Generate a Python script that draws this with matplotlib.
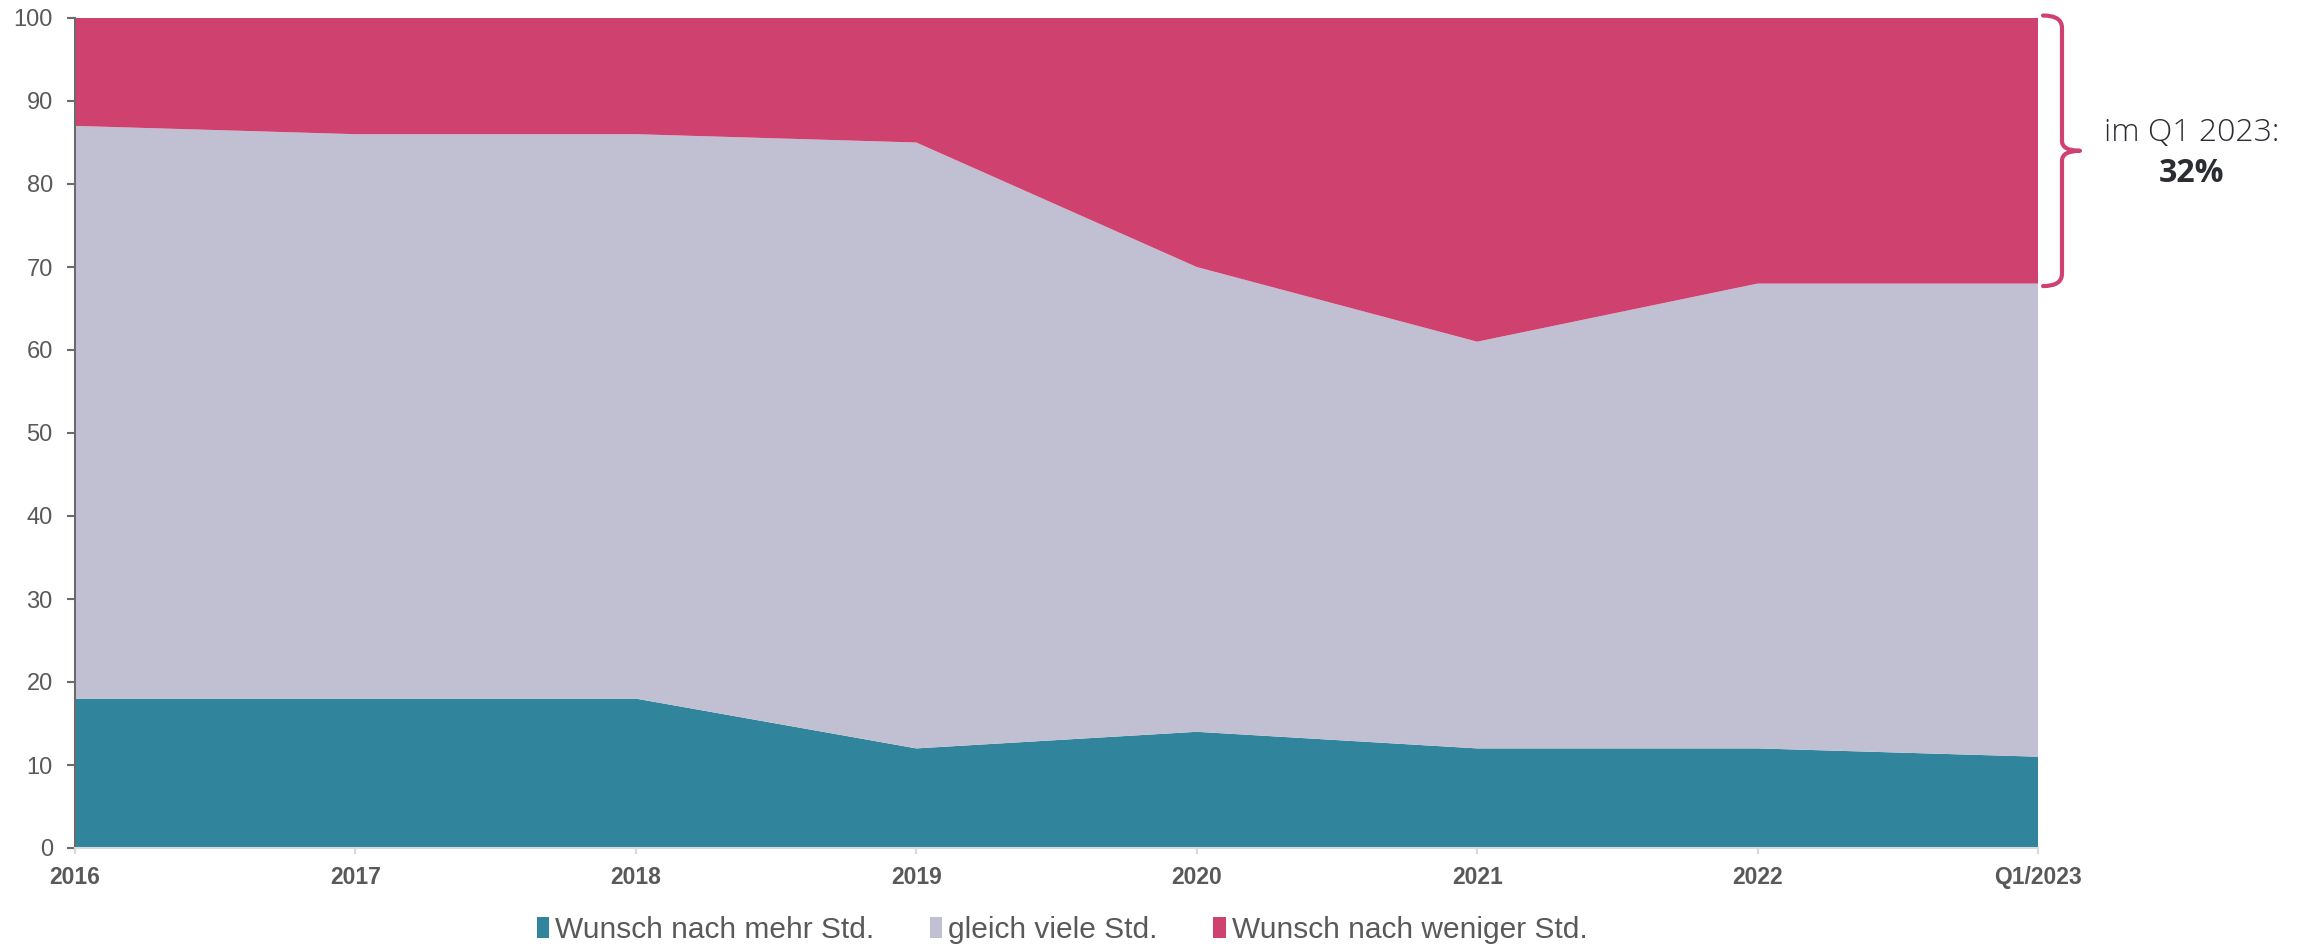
import numpy as np
import matplotlib
matplotlib.use("Agg")
import matplotlib.pyplot as plt
from matplotlib.path import Path
from matplotlib.patches import PathPatch
from matplotlib.transforms import blended_transform_factory

# data (percent)
YEARS = ["2016", "2017", "2018", "2019", "2020", "2021", "2022", "Q1/2023"]
MEHR = [18, 18, 18, 12, 14, 12, 12, 11]
GLEICH = [69, 68, 68, 73, 56, 49, 56, 57]
WENIGER = [13, 14, 14, 15, 30, 39, 32, 32]
LABELS = ["Wunsch nach mehr Std.", "gleich viele Std.", "Wunsch nach weniger Std."]
COLORS = ["#30849B", "#C1C0D3", "#CF416F"]

W, H = 2301, 949
fig = plt.figure(figsize=(W / 100, H / 100), dpi=100)
plt.rcParams["font.family"] = ["Liberation Sans", "DejaVu Sans"]

# axes box in pixels: left 75, right 2038, top 18, bottom 848
ax = fig.add_axes([75 / W, 1 - 848 / H, (2038 - 75) / W, (848 - 18) / H])

x = np.arange(len(YEARS))
polys = ax.stackplot(x, MEHR, GLEICH, WENIGER, colors=COLORS, labels=LABELS,
                     linewidth=0)

ax.set_xlim(0, len(YEARS) - 1)
ax.set_ylim(0, 100)
ax.set_yticks(np.arange(0, 101, 10))
ax.set_xticks(x)
ax.set_xticklabels(YEARS, fontweight="bold")

for s in ["top", "right"]:
    ax.spines[s].set_visible(False)
ax.spines["left"].set_color("#6b6b6b")
ax.spines["left"].set_linewidth(1.5)
ax.spines["bottom"].set_color("#d9d9d9")
ax.spines["bottom"].set_linewidth(1.5)

ax.tick_params(axis="y", length=6, width=1.5, color="#6b6b6b", pad=10,
               labelsize=17, labelcolor="#595959")
ax.tick_params(axis="x", length=4, width=1.5, color="#d9d9d9", pad=9,
               labelsize=16.5, labelcolor="#595959")

leg = fig.legend(handles=polys, labels=LABELS, loc="center",
                 bbox_to_anchor=(1062 / W, 1 - 930 / H), ncol=3, frameon=False,
                 fontsize=21.5, handlelength=0.42, handleheight=0.72,
                 handletextpad=0.2, columnspacing=1.85, labelcolor="#595959")

# brace next to the last point, covering the "weniger" share
top = MEHR[-1] + GLEICH[-1] + WENIGER[-1]
bot = MEHR[-1] + GLEICH[-1]
mid = (top + bot) / 2
tr = blended_transform_factory(fig.transFigure, ax.transData)
x0, x1, x2 = 2043 / W, 2062 / W, 2080 / W
r = 1.2
verts = [(x0, top + 0.3), (x1, top + 0.3), (x1, top - r),
         (x1, mid + r), (x1, mid), (x2, mid),
         (x1, mid), (x1, mid - r),
         (x1, bot + r), (x1, bot - 0.3), (x0, bot - 0.3)]
codes = [Path.MOVETO, Path.CURVE3, Path.CURVE3,
         Path.LINETO, Path.CURVE3, Path.CURVE3,
         Path.CURVE3, Path.CURVE3,
         Path.LINETO, Path.CURVE3, Path.CURVE3]
brace = PathPatch(Path(verts, codes), transform=tr, fill=False,
                  edgecolor="#CF416F", linewidth=3, clip_on=False,
                  capstyle="round", joinstyle="round")
fig.add_artist(brace)

fig.text(2192 / W, 1 - 133 / H, "im Q1 2023:", ha="center", va="center",
         fontsize=23, color="#2b2d33", family=["Open Sans", "DejaVu Sans"],
         fontweight="light")
fig.text(2192 / W, 1 - 173 / H, f"{WENIGER[-1]}%", ha="center", va="center",
         fontsize=23, color="#2b2d33", family=["Open Sans", "DejaVu Sans"],
         fontweight="bold")

fig.savefig("out.png", dpi=100)
